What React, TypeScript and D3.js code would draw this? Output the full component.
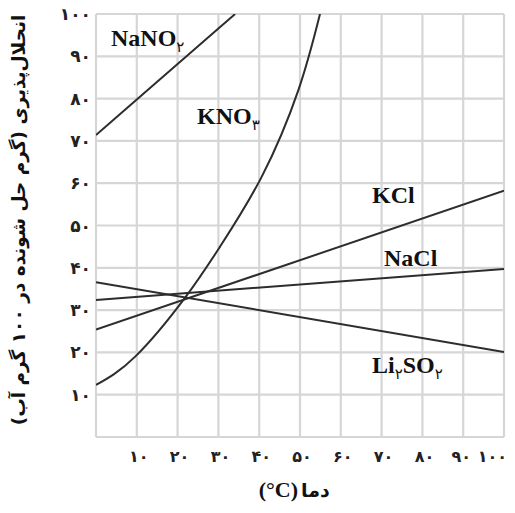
import React from "react";
import * as d3 from "d3";

const xTicks = [10, 20, 30, 40, 50, 60, 70, 80, 90, 100];
const yTicks = [10, 20, 30, 40, 50, 60, 70, 80, 90, 100];
const gridTicks = [0, 10, 20, 30, 40, 50, 60, 70, 80, 90, 100];

const nano3: [number, number][] = [[0, 71.4], [10, 79.8], [20, 88.2], [30, 96.6], [34.1, 100]];
const kno3: [number, number][] = [[0, 12.3], [9.6, 19], [21.8, 32.9], [30.4, 45], [40.6, 61.5], [49.6, 82], [54.9, 100]];
const kcl: [number, number][] = [[0, 25.4], [100, 58.2]];
const nacl: [number, number][] = [[0, 32.4], [100, 39.7]];
const li2so4: [number, number][] = [[0, 36.6], [100, 20.1]];

const xLabel = "دما";
const yLabel = "انحلال‌پذیری (گرم حل شونده در ۱۰۰ گرم آب)";

const fa = (n: number) => String(n).replace(/\d/g, (d) => "۰۱۲۳۴۵۶۷۸۹"[+d]);

const W = 515, H = 513;
const X0 = 96, X1 = 504, Y0 = 437, Y1 = 14;

export default function App() {
  const x = d3.scaleLinear().domain([0, 100]).range([X0, X1]);
  const y = d3.scaleLinear().domain([0, 100]).range([Y0, Y1]);
  const line = d3.line<[number, number]>().x((d) => x(d[0])).y((d) => y(d[1]));
  const curve = d3.line<[number, number]>().x((d) => x(d[0])).y((d) => y(d[1])).curve(d3.curveNatural);
  const gridC = "#d6d6d6";
  const lineC = "#2e2c2d";
  const serif = "'Liberation Serif', 'Times New Roman', serif";
  const fas = "'DejaVu Sans', sans-serif";
  const lab = { fontFamily: serif, fontWeight: 700, fontSize: 24, fill: "#111" } as const;
  const sub = { fontFamily: fas, fontWeight: 400, fontSize: 15 } as const;
  const xPos = (t: number) => (t === 100 ? x(t) + 3 : t === 90 ? x(t) - 2 : x(t) + 2);
  return (
    <svg width={W} height={H} style={{ position: "absolute", left: 0, top: 0, background: "#fff" }}>
      <defs>
        <clipPath id="plot">
          <rect x={X0} y={Y1} width={X1 - X0} height={Y0 - Y1} />
        </clipPath>
      </defs>
      {gridTicks.map((t) => (
        <line key={"gx" + t} x1={x(t)} x2={x(t)} y1={Y1} y2={Y0} stroke={gridC} strokeWidth={2.2} />
      ))}
      {gridTicks.map((t) => (
        <line key={"gy" + t} x1={X0} x2={X1} y1={y(t)} y2={y(t)} stroke={gridC} strokeWidth={2.2} />
      ))}
      <g clipPath="url(#plot)" fill="none" stroke={lineC} strokeWidth={2}>
        <path d={line(nano3) || ""} />
        <path d={curve(kno3) || ""} />
        <path d={line(kcl) || ""} />
        <path d={line(nacl) || ""} />
        <path d={line(li2so4) || ""} />
      </g>
      {yTicks.map((t) => (
        <text key={"yt" + t} x={91} y={y(t) + 6} textAnchor="end" fontFamily={fas} fontWeight={700} fontSize={17} fill="#222">
          {fa(t)}
        </text>
      ))}
      {xTicks.map((t) => (
        <text key={"xt" + t} x={xPos(t)} y={462} textAnchor={t === 100 ? "end" : "middle"} fontFamily={fas} fontWeight={700} fontSize={16} fill="#222">
          {fa(t)}
        </text>
      ))}
      <text x={111} y={46} {...lab}>
        NaNO<tspan {...sub} dy={6}>۲</tspan>
      </text>
      <text x={197} y={124} {...lab}>
        KNO<tspan {...sub} dy={6}>۳</tspan>
      </text>
      <text x={372} y={203} {...lab}>KCl</text>
      <text x={384} y={266} {...lab}>NaCl</text>
      <text x={372} y={373} {...lab}>
        Li<tspan {...sub} dy={6}>۲</tspan>
        <tspan dy={-6}>SO</tspan>
        <tspan {...sub} dy={6}>۲</tspan>
      </text>
      <text x={298} y={497} textAnchor="end" fontFamily={serif} fontWeight={700} fontSize={22} fill="#111">(°C)</text>
      <text x={301} y={497} textAnchor="start" fontFamily={fas} fontWeight={700} fontSize={19} fill="#111">{xLabel}</text>
      <text transform="translate(25,220) rotate(-90)" textAnchor="middle" fontFamily={fas} fontWeight={700} fontSize={18.5} fill="#111">
        {yLabel}
      </text>
    </svg>
  );
}
